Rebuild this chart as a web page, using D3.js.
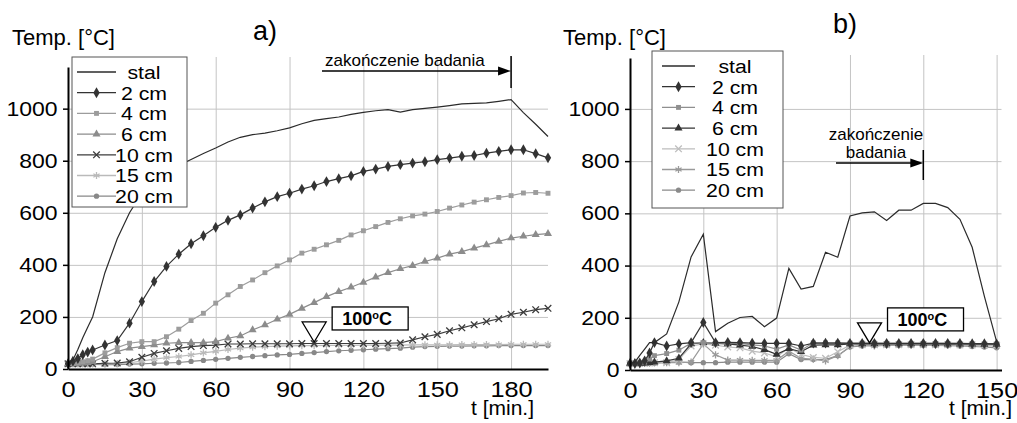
<!DOCTYPE html>
<html>
<head>
<meta charset="utf-8">
<script src="https://cdn.jsdelivr.net/npm/d3@7"></script>
<style>
  body { margin: 0; background: #fff; }
  svg { display: block; font-family: "Liberation Sans", Arial, sans-serif; }
</style>
</head>
<body>
<svg id="chart" width="1017" height="423"></svg>
<script>
// dane - wykres a)
const seriesNames = ["stal", "2 cm", "4 cm", "6 cm", "10 cm", "15 cm", "20 cm"];
const yTicks = [0, 200, 400, 600, 800, 1000];
const xTicksA = [0, 30, 60, 90, 120, 150, 180];
const xTicksB = [0, 30, 60, 90, 120, 150];

const timeA = [0, 2, 4, 6, 8, 10, 15, 20, 25, 30, 35, 40, 45, 50, 55, 60, 65, 70, 75, 80, 85, 90, 95, 100,
  105, 110, 115, 120, 125, 130, 135, 140, 145, 150, 155, 160, 165, 170, 175, 180, 185, 190, 195];
const stalA = [20, 35, 75, 120, 160, 200, 370, 500, 600, 675, 730, 760, 782, 805, 828, 849, 872, 890, 900, 906,
  915, 926, 942, 955, 962, 968, 978, 986, 992, 996, 987, 996, 1001, 1006, 1012, 1018, 1020, 1022, 1028, 1035, 985, 940, 893];
const cm2A = [20, 30, 40, 55, 65, 73, 92, 109, 176, 259, 336, 394, 441, 481, 512, 544, 571, 592, 618, 642,
  662, 675, 691, 704, 720, 731, 742, 759, 768, 778, 785, 791, 796, 804, 810, 817, 820, 829, 836, 842, 842, 827, 811];
const cm4A = [20, 22, 25, 28, 32, 38, 62, 82, 99, 105, 105, 124, 153, 186, 214, 253, 285, 317, 342, 370,
  396, 419, 445, 460, 477, 494, 515, 531, 547, 563, 577, 588, 595, 605, 618, 630, 641, 650, 659, 666, 676, 678, 675];
const cm6A = [20, 20, 21, 22, 24, 28, 47, 67, 80, 86, 92, 99, 101, 101, 101, 105, 118, 127, 150, 169,
  191, 210, 233, 255, 278, 297, 314, 333, 353, 370, 385, 397, 413, 426, 441, 451, 464, 477, 490, 503, 510, 516, 520];
const cm10A = [20, 20, 20, 20, 20, 20, 22, 23, 28, 45, 60, 70, 79, 86, 90, 92, 96, 96, 97, 97,
  97, 97, 98, 98, 98, 98, 98, 98, 98, 99, 100, 112, 124, 133, 147, 158, 170, 182, 193, 210, 218, 228, 233];
const cm15A = [20, 20, 20, 20, 20, 20, 20, 21, 24, 30, 38, 44, 48, 54, 62, 68, 75, 80, 84, 86,
  88, 89, 90, 90, 91, 91, 91, 92, 92, 92, 92, 93, 93, 93, 93, 94, 94, 94, 94, 95, 95, 95, 95];
const cm20A = [18, 18, 18, 18, 18, 18, 17, 17, 19, 20, 22, 23, 25, 29, 33, 37, 41, 45, 48, 51,
  54, 56, 60, 63, 67, 70, 72, 74, 76, 78, 80, 84, 86, 87, 88, 88, 89, 89, 90, 90, 90, 90, 90];

// dane - wykres b)
const timeB = [0, 2, 4, 6, 8, 10, 15, 20, 25, 30, 35, 40, 45, 50, 55, 60, 65, 70, 75, 80, 85, 90,
  95, 100, 105, 110, 115, 120, 125, 130, 135, 140, 145, 150];
const stalB = [25, 30, 56, 80, 105, 105, 138, 261, 433, 520, 147, 179, 201, 205, 166, 199, 389, 310, 320, 451,
  432, 590, 602, 606, 573, 612, 612, 638, 638, 622, 577, 470, 282, 109];
const cm2B = [25, 25, 27, 35, 65, 105, 92, 100, 105, 182, 105, 106, 105, 103, 102, 102, 102, 92, 103, 103,
  103, 102, 102, 102, 102, 102, 102, 102, 102, 102, 102, 101, 101, 100];
const cm4B = [25, 25, 27, 30, 42, 55, 63, 76, 103, 105, 103, 102, 102, 96, 92, 80, 96, 76, 104, 104,
  104, 103, 103, 103, 102, 102, 102, 102, 102, 102, 101, 101, 100, 100];
const cm6B = [25, 25, 25, 26, 28, 30, 35, 45, 100, 105, 102, 100, 95, 90, 78, 60, 82, 70, 95, 96,
  96, 100, 100, 100, 100, 100, 100, 100, 100, 99, 99, 99, 98, 98];
const cm10B = [25, 25, 25, 26, 27, 28, 28, 40, 92, 100, 95, 88, 85, 72, 65, 50, 85, 60, 48, 45,
  70, 95, 97, 97, 97, 97, 97, 97, 97, 97, 96, 96, 95, 95];
const cm15B = [25, 25, 25, 25, 26, 27, 28, 28, 30, 100, 58, 38, 38, 37, 37, 37, 72, 45, 42, 35,
  55, 90, 95, 92, 95, 95, 95, 95, 95, 95, 94, 94, 93, 92];
const cm20B = [25, 25, 25, 25, 25, 26, 30, 30, 28, 28, 28, 30, 30, 30, 30, 30, 62, 40, 40, 40,
  55, 88, 92, 93, 94, 94, 94, 94, 94, 93, 92, 90, 88, 85];

const svg = d3.select("#chart");

const symTimes = d3.symbolTimes || d3.symbolCross;
const symAst = d3.symbolAsterisk || d3.symbolStar;
const symbols = [null, d3.symbolDiamond, d3.symbolSquare, d3.symbolTriangle, symTimes, symAst, d3.symbolCircle];
const symSize = [0, 34, 24, 28, 30, 36, 22];
const strokeSym = [false, false, false, false, true, true, false];

function marker(sel, i, color) {
  sel.attr("d", d3.symbol().type(symbols[i]).size(symSize[i]))
    .attr("fill", strokeSym[i] ? "none" : color)
    .attr("stroke", strokeSym[i] ? color : "none")
    .attr("stroke-width", 1.3);
}

function drawPanel(cfg) {
  const g = svg.append("g");
  const x = cfg.x, y = cfg.y;
  const x0 = x.range()[0], x1 = x.range()[1];
  const y0 = y.range()[0];

  // siatka
  g.append("g").attr("transform", `translate(${x0},0)`)
    .call(d3.axisLeft(y).tickValues(yTicks.slice(1)).tickSize(-(x1 - x0)).tickFormat(""))
    .call(a => a.select(".domain").remove())
    .selectAll("line").attr("stroke", "#c4c4c4");
  g.append("g").attr("transform", `translate(0,${y0})`)
    .call(d3.axisBottom(x).tickValues(cfg.xTicks.slice(1)).tickSize(-(y0 - cfg.gridTop)).tickFormat(""))
    .call(a => a.select(".domain").remove())
    .selectAll("line").attr("stroke", "#c4c4c4");

  // serie
  const line = d3.line().x((d, i) => x(cfg.time[i])).y(d => y(d));
  for (let i = cfg.series.length - 1; i >= 0; i--) {
    const v = cfg.series[i];
    g.append("path").datum(v).attr("d", line)
      .attr("fill", "none").attr("stroke", cfg.colors[i]).attr("stroke-width", 1.2);
    if (symbols[i]) {
      g.selectAll(null).data(v).join("path")
        .attr("transform", (d, j) => `translate(${x(cfg.time[j])},${y(d)})`)
        .call(marker, i, cfg.colors[i]);
    }
  }

  // osie
  g.append("g").attr("transform", `translate(${x0},0)`)
    .call(d3.axisLeft(y).tickValues(yTicks).tickFormat(d3.format("d"))
      .tickSize(5).tickSizeOuter(0).tickPadding(4))
    .call(a => a.select(".domain").attr("stroke-width", 2))
    .call(a => a.selectAll("line").attr("stroke-width", 1.5))
    .selectAll("text").attr("font-size", 20).attr("fill", "#000")
    .attr("font-family", "Liberation Sans, Arial, sans-serif")
    .attr("transform", "scale(1.15,1)");
  g.append("g").attr("transform", `translate(0,${y0})`)
    .call(d3.axisBottom(x).tickValues(cfg.xTicks).tickSize(0).tickSizeOuter(0).tickPadding(12))
    .call(a => a.select(".domain").attr("stroke-width", 2))
    .selectAll("text").attr("font-size", 22).attr("fill", "#000")
    .attr("font-family", "Liberation Sans, Arial, sans-serif")
    .attr("transform", "scale(1.15,1)");

  // opisy osi
  g.append("text").attr("x", cfg.tempX).attr("y", 45).attr("font-size", 22).text("Temp. [°C]");
  g.append("text").attr("x", cfg.tX).attr("y", 415).attr("font-size", 21)
    .attr("text-anchor", "end").text("t [min.]");
  g.append("text").attr("x", cfg.labX).attr("y", cfg.labY).attr("font-size", 27).text(cfg.label);

  // legenda
  const L = cfg.legend;
  g.append("rect").attr("x", L.x).attr("y", L.y).attr("width", L.w).attr("height", L.h)
    .attr("fill", "#fff").attr("stroke", "#555").attr("stroke-width", 1);
  seriesNames.forEach((name, i) => {
    const ly = L.first + i * L.step;
    g.append("line").attr("x1", L.lx1).attr("x2", L.lx2).attr("y1", ly).attr("y2", ly)
      .attr("stroke", cfg.colors[i]).attr("stroke-width", 1.3);
    if (symbols[i]) {
      g.append("path").attr("transform", `translate(${(L.lx1 + L.lx2) / 2},${ly})`)
        .call(marker, i, cfg.colors[i]);
    }
    g.append("text").attr("transform", `translate(${L.tx},${ly}) scale(1.12,1)`).attr("dy", "0.36em")
      .attr("text-anchor", "middle").attr("font-size", 19).text(name);
  });

  // zakończenie badania
  const ex = x(cfg.endT);
  const A = cfg.arrow;
  g.append("line").attr("x1", A.x1).attr("x2", ex - 10).attr("y1", A.y).attr("y2", A.y)
    .attr("stroke", "#000").attr("stroke-width", 1.3);
  g.append("path").attr("d", `M${ex},${A.y}L${ex - 13},${A.y - 4.5}L${ex - 13},${A.y + 4.5}Z`).attr("fill", "#000");
  g.append("line").attr("x1", ex).attr("x2", ex).attr("y1", A.vy1).attr("y2", A.vy2)
    .attr("stroke", "#000").attr("stroke-width", 1.5);
  A.lines.forEach((t, k) => {
    g.append("text").attr("x", A.tx).attr("y", A.ty + k * 18).attr("font-size", 17)
      .attr("text-anchor", A.anchor).text(t);
  });

  // 100°C
  const tx = x(cfg.markT), ty = y(100);
  g.append("path").attr("d", `M${tx - 12},${ty - 21}L${tx + 12},${ty - 21}L${tx},${ty - 1}Z`)
    .attr("fill", "#fff").attr("stroke", "#000").attr("stroke-width", 1.3);
  const bx = tx + 18;
  g.append("rect").attr("x", bx).attr("y", ty - 36).attr("width", 76).attr("height", 23)
    .attr("fill", "#fff").attr("stroke", "#000").attr("stroke-width", 1.3);
  const lt = g.append("text").attr("x", bx + 10).attr("y", ty - 17.5)
    .attr("font-size", 18).attr("font-weight", "bold");
  lt.append("tspan").text("100");
  lt.append("tspan").attr("font-size", 11).attr("dy", -6).text("o");
  lt.append("tspan").attr("dy", 6).text("C");
}

drawPanel({
  x: d3.scaleLinear().domain([0, 195]).range([68, 548]),
  y: d3.scaleLinear().domain([0, 1160]).range([369, 67]),
  xTicks: xTicksA,
  time: timeA,
  series: [stalA, cm2A, cm4A, cm6A, cm10A, cm15A, cm20A],
  colors: ["#2b2b2b", "#333333", "#9c9c9c", "#8c8c8c", "#3c3c3c", "#bababa", "#888888"],
  gridTop: 57,
  tempX: 12, tX: 534, label: "a)", labX: 253, labY: 40,
  legend: { x: 72, y: 57, w: 115, h: 150, first: 72, step: 20.7, lx1: 77, lx2: 116, tx: 144 },
  endT: 180,
  arrow: { x1: 322, y: 71, vy1: 56, vy2: 88, lines: ["zakończenie badania"], tx: 325, ty: 66, anchor: "start" },
  markT: 100
});

drawPanel({
  x: d3.scaleLinear().domain([0, 152]).range([630, 1001.5]),
  y: d3.scaleLinear().domain([0, 1195]).range([370, 58]),
  xTicks: xTicksB,
  time: timeB,
  series: [stalB, cm2B, cm4B, cm6B, cm10B, cm15B, cm20B],
  colors: ["#2b2b2b", "#333333", "#8f8f8f", "#333333", "#bdbdbd", "#9a9a9a", "#8a8a8a"],
  gridTop: 55,
  tempX: 563, tX: 1012, label: "b)", labX: 833, labY: 33,
  legend: { x: 652, y: 51, w: 131, h: 157, first: 66, step: 20.7, lx1: 662, lx2: 695, tx: 735 },
  endT: 120,
  arrow: { x1: 836, y: 163, vy1: 150, vy2: 180, lines: ["zakończenie", "badania"], tx: 876, ty: 140, anchor: "middle" },
  markT: 98
});
</script>
</body>
</html>
